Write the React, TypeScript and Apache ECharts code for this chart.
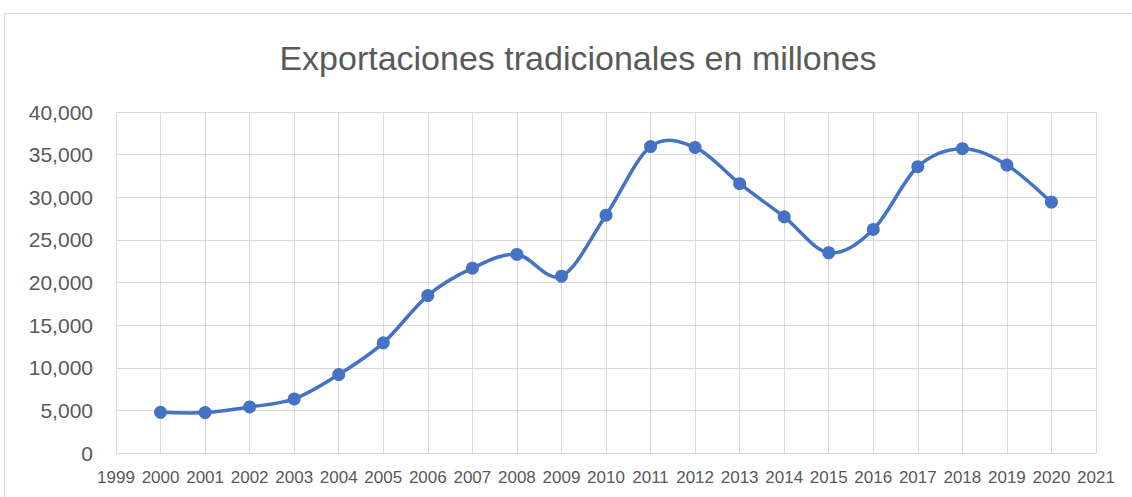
import React, { useEffect, useRef } from "react";
import * as echarts from "echarts";

const years = [2000, 2001, 2002, 2003, 2004, 2005, 2006, 2007, 2008, 2009, 2010, 2011, 2012, 2013, 2014, 2015, 2016, 2017, 2018, 2019, 2020];
const exportsValues = [4770, 4740, 5400, 6340, 9200, 12920, 18470, 21680, 23290, 20740, 27900, 35940, 35850, 31590, 27710, 23490, 26220, 33590, 35700, 33780, 29430];
const title = "Exportaciones tradicionales en millones";

export default function App() {
  const ref = useRef<HTMLDivElement>(null);
  useEffect(() => {
    document.body.style.margin = "0";
    const chart = echarts.init(ref.current!, null, { renderer: "svg" });
    const font = "'Liberation Sans', Arial, sans-serif";
    const data = years.map((y, i) => [y, exportsValues[i]]);
    chart.setOption({
      animation: false,
      backgroundColor: "#ffffff",
      title: {
        text: title,
        left: 573,
        top: 36,
        textAlign: "center",
        textStyle: { fontFamily: font, fontSize: 34, fontWeight: "normal", color: "#595959" },
      },
      graphic: [
        {
          type: "rect",
          shape: { x: 4.5, y: 13.5, width: 1300, height: 700 },
          style: { fill: "none", stroke: "#d9d9d9", lineWidth: 1 },
          silent: true,
          z: -1,
        },
      ],
      grid: { left: 116, right: 36, top: 112, bottom: 44 },
      xAxis: {
        type: "value",
        min: 1999,
        max: 2021,
        interval: 1,
        axisLine: { show: true, lineStyle: { color: "#d9d9d9", width: 1 } },
        axisTick: { show: false },
        splitLine: { show: true, lineStyle: { color: "#d9d9d9", width: 1 } },
        axisLabel: {
          fontFamily: font,
          fontSize: 17,
          color: "#595959",
          margin: 16,
          showMinLabel: true,
          showMaxLabel: true,
          formatter: (v: number) => String(v),
        },
      },
      yAxis: {
        type: "value",
        min: 0,
        max: 40000,
        interval: 5000,
        axisLine: { show: true, lineStyle: { color: "#d9d9d9", width: 1 } },
        axisTick: { show: false },
        splitLine: { show: true, lineStyle: { color: "#d9d9d9", width: 1 } },
        axisLabel: {
          fontFamily: font,
          fontSize: 21,
          color: "#595959",
          margin: 23,
          formatter: (v: number) => v.toLocaleString("en-US"),
        },
      },
      series: [
        {
          type: "custom",
          data: data,
          silent: true,
          z: 2,
          renderItem: (params: any, api: any) => {
            if (params.dataIndex !== 0) return null;
            const pts = data.map((d) => api.coord(d));
            const n = pts.length;
            let p = `M ${pts[0][0]} ${pts[0][1]}`;
            for (let i = 0; i < n - 1; i++) {
              const p0 = pts[Math.max(0, i - 1)];
              const p1 = pts[i];
              const p2 = pts[i + 1];
              const p3 = pts[Math.min(n - 1, i + 2)];
              const c1x = p1[0] + (p2[0] - p0[0]) / 6;
              const c1y = p1[1] + (p2[1] - p0[1]) / 6;
              const c2x = p2[0] - (p3[0] - p1[0]) / 6;
              const c2y = p2[1] - (p3[1] - p1[1]) / 6;
              p += ` C ${c1x} ${c1y} ${c2x} ${c2y} ${p2[0]} ${p2[1]}`;
            }
            return {
              type: "path",
              shape: { pathData: p },
              style: { fill: "none", stroke: "#4472C4", lineWidth: 3.5, lineJoin: "round", lineCap: "round" },
            };
          },
        },
        {
          type: "scatter",
          data: data,
          symbol: "circle",
          symbolSize: 13,
          z: 3,
          itemStyle: { color: "#4472C4", opacity: 1 },
        },
      ],
    });
    return () => chart.dispose();
  }, []);
  return <div ref={ref} style={{ width: 1132, height: 497 }} />;
}
